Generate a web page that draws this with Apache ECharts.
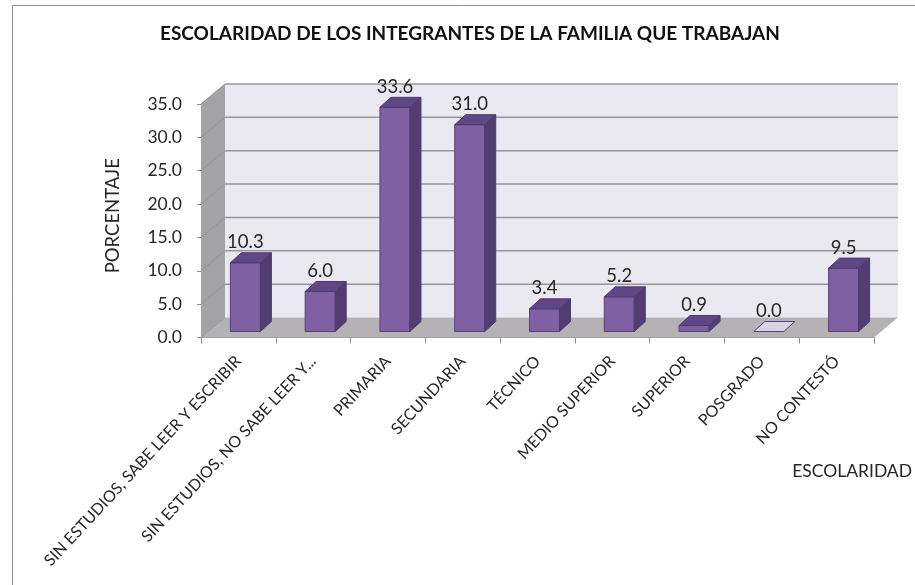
<!DOCTYPE html>
<html>
<head>
<meta charset="utf-8">
<style>
html, body { margin: 0; padding: 0; background: #fff; }
#chart { width: 915px; height: 585px; }
</style>
<script src="https://cdn.jsdelivr.net/npm/echarts@6/dist/echarts.min.js"></script>
</head>
<body>
<div id="chart"></div>
<script>
var chartTitle = 'ESCOLARIDAD DE LOS INTEGRANTES DE LA FAMILIA QUE TRABAJAN';
var categories = [
    'SIN ESTUDIOS, SABE LEER Y ESCRIBIR',
    'SIN ESTUDIOS, NO SABE LEER Y...',
    'PRIMARIA',
    'SECUNDARIA',
    'TÉCNICO',
    'MEDIO SUPERIOR',
    'SUPERIOR',
    'POSGRADO',
    'NO CONTESTÓ'
];
var values = [10.3, 6.0, 33.6, 31.0, 3.4, 5.2, 0.9, 0.0, 9.5];
var yTicks = [0, 5, 10, 15, 20, 25, 30, 35];

var FONT = 'Lato, "Open Sans", sans-serif';
var TEXT = '#262626';

// depth of the box (walls) and of one bar
var WALL_DX = 24, WALL_DY = 20;
var BAR_DX = 11, BAR_DY = 10;
var BAR_W = 30;
var BAR_SHIFT_X = 7, BAR_SHIFT_Y = 6;

function poly(points, fill, stroke) {
    return {
        type: 'polygon',
        shape: { points: points },
        style: { fill: fill, stroke: stroke || null, lineWidth: stroke ? 1 : 0 }
    };
}

function renderWalls(params, api) {
    var c = params.coordSys;
    var left = c.x, right = c.x + c.width, top = c.y, bottom = c.y + c.height;
    var children = [
        poly([[left + WALL_DX, top - WALL_DY], [right + WALL_DX, top - WALL_DY],
              [right + WALL_DX, bottom - WALL_DY], [left + WALL_DX, bottom - WALL_DY]], '#eae8f0'),
        poly([[left, top], [left + WALL_DX, top - WALL_DY],
              [left + WALL_DX, bottom - WALL_DY], [left, bottom]], '#a3a3a5'),
        poly([[left, bottom], [left + WALL_DX, bottom - WALL_DY],
              [right + WALL_DX, bottom - WALL_DY], [right, bottom]], '#b5b2b6')
    ];
    yTicks.forEach(function (t) {
        var y = api.coord([0, t])[1];
        children.push({
            type: 'line',
            shape: { x1: left, y1: y, x2: left + WALL_DX, y2: y - WALL_DY },
            style: { stroke: '#949496', lineWidth: 1 }
        });
        if (t > 0) {
            children.push({
                type: 'line',
                shape: { x1: left + WALL_DX, y1: y - WALL_DY, x2: right + WALL_DX, y2: y - WALL_DY },
                style: { stroke: '#97979a', lineWidth: 1.5 }
            });
        }
    });
    return { type: 'group', children: children };
}

function renderBar(params, api) {
    var idx = api.value(0), val = api.value(1);
    var base = api.coord([idx, 0]);
    var tip = api.coord([idx, val]);
    var x0 = base[0] - BAR_W / 2 + BAR_SHIFT_X, x1 = x0 + BAR_W;
    var yb = base[1] - BAR_SHIFT_Y, yt = tip[1] - BAR_SHIFT_Y;
    var line = '#54407a';
    var children = [];
    if (val > 0) {
        children.push(poly([[x0, yb], [x1, yb], [x1, yt], [x0, yt]], '#7f60a3', line));
        children.push(poly([[x1, yb], [x1 + BAR_DX, yb - BAR_DY], [x1 + BAR_DX, yt - BAR_DY], [x1, yt]], '#523d72', '#4d3a6c'));
        children.push(poly([[x0, yt], [x0 + BAR_DX, yt - BAR_DY], [x1 + BAR_DX, yt - BAR_DY], [x1, yt]], '#5f4684', '#4d3a6c'));
    } else {
        children.push(poly([[x0, yb], [x0 + BAR_DX, yb - BAR_DY], [x1 + BAR_DX, yb - BAR_DY], [x1, yb]], '#d9d4e3', line));
    }
    children.push({
        type: 'text',
        style: {
            x: (x0 + x1) / 2,
            y: yt - BAR_DY - 1,
            text: val.toFixed(1),
            align: 'center',
            verticalAlign: 'bottom',
            fill: TEXT,
            font: '18.5px ' + FONT
        }
    });
    return { type: 'group', children: children };
}

var chart = echarts.init(document.getElementById('chart'));
chart.setOption({
    animation: false,
    backgroundColor: '#fff',
    title: {
        text: chartTitle,
        left: 160,
        top: 24,
        padding: 0,
        textStyle: { fontFamily: FONT, fontSize: 19, fontWeight: 'bold', color: '#111' }
    },
    graphic: [{
        type: 'polyline',
        silent: true,
        shape: { points: [[12.5, 585], [12.5, 5.5], [915, 5.5]] },
        style: { fill: null, stroke: '#8c8c8c', lineWidth: 1 }
    }],
    grid: { left: 201, top: 104, width: 673, height: 233.5 },
    xAxis: {
        type: 'category',
        data: categories,
        name: 'ESCOLARIDAD',
        nameLocation: 'end',
        nameGap: 38,
        nameTextStyle: {
            fontFamily: FONT, fontSize: 17.5, color: TEXT,
            align: 'right', verticalAlign: 'top', padding: [125, 0, 0, 0]
        },
        axisLine: { lineStyle: { color: '#8c8c8c' } },
        axisTick: { show: true, length: 6, alignWithLabel: false, lineStyle: { color: '#8c8c8c' } },
        axisLabel: {
            interval: 0,
            rotate: 47,
            margin: 21,
            fontFamily: FONT,
            fontSize: 16,
            color: TEXT
        }
    },
    yAxis: {
        type: 'value',
        min: 0,
        max: 35,
        interval: 5,
        name: 'PORCENTAJE',
        nameLocation: 'middle',
        nameGap: 78,
        nameTextStyle: { fontFamily: FONT, fontSize: 18.5, color: TEXT, padding: [0, 0, 0, 10] },
        axisLine: { show: true, lineStyle: { color: '#8c8c8c' } },
        axisTick: { show: true, length: 4, lineStyle: { color: '#8c8c8c' } },
        splitLine: { show: false },
        axisLabel: {
            margin: 19,
            fontFamily: FONT,
            fontSize: 17.5,
            color: TEXT,
            formatter: function (v) { return v.toFixed(1); }
        }
    },
    series: [{
        type: 'custom',
        name: 'walls',
        silent: true,
        clip: false,
        z: 1,
        renderItem: renderWalls,
        data: [[0, 0]]
    }, {
        type: 'custom',
        name: 'PORCENTAJE',
        clip: false,
        z: 2,
        renderItem: renderBar,
        encode: { x: 0, y: 1 },
        data: values.map(function (v, i) { return [i, v]; })
    }]
});
</script>
</body>
</html>
